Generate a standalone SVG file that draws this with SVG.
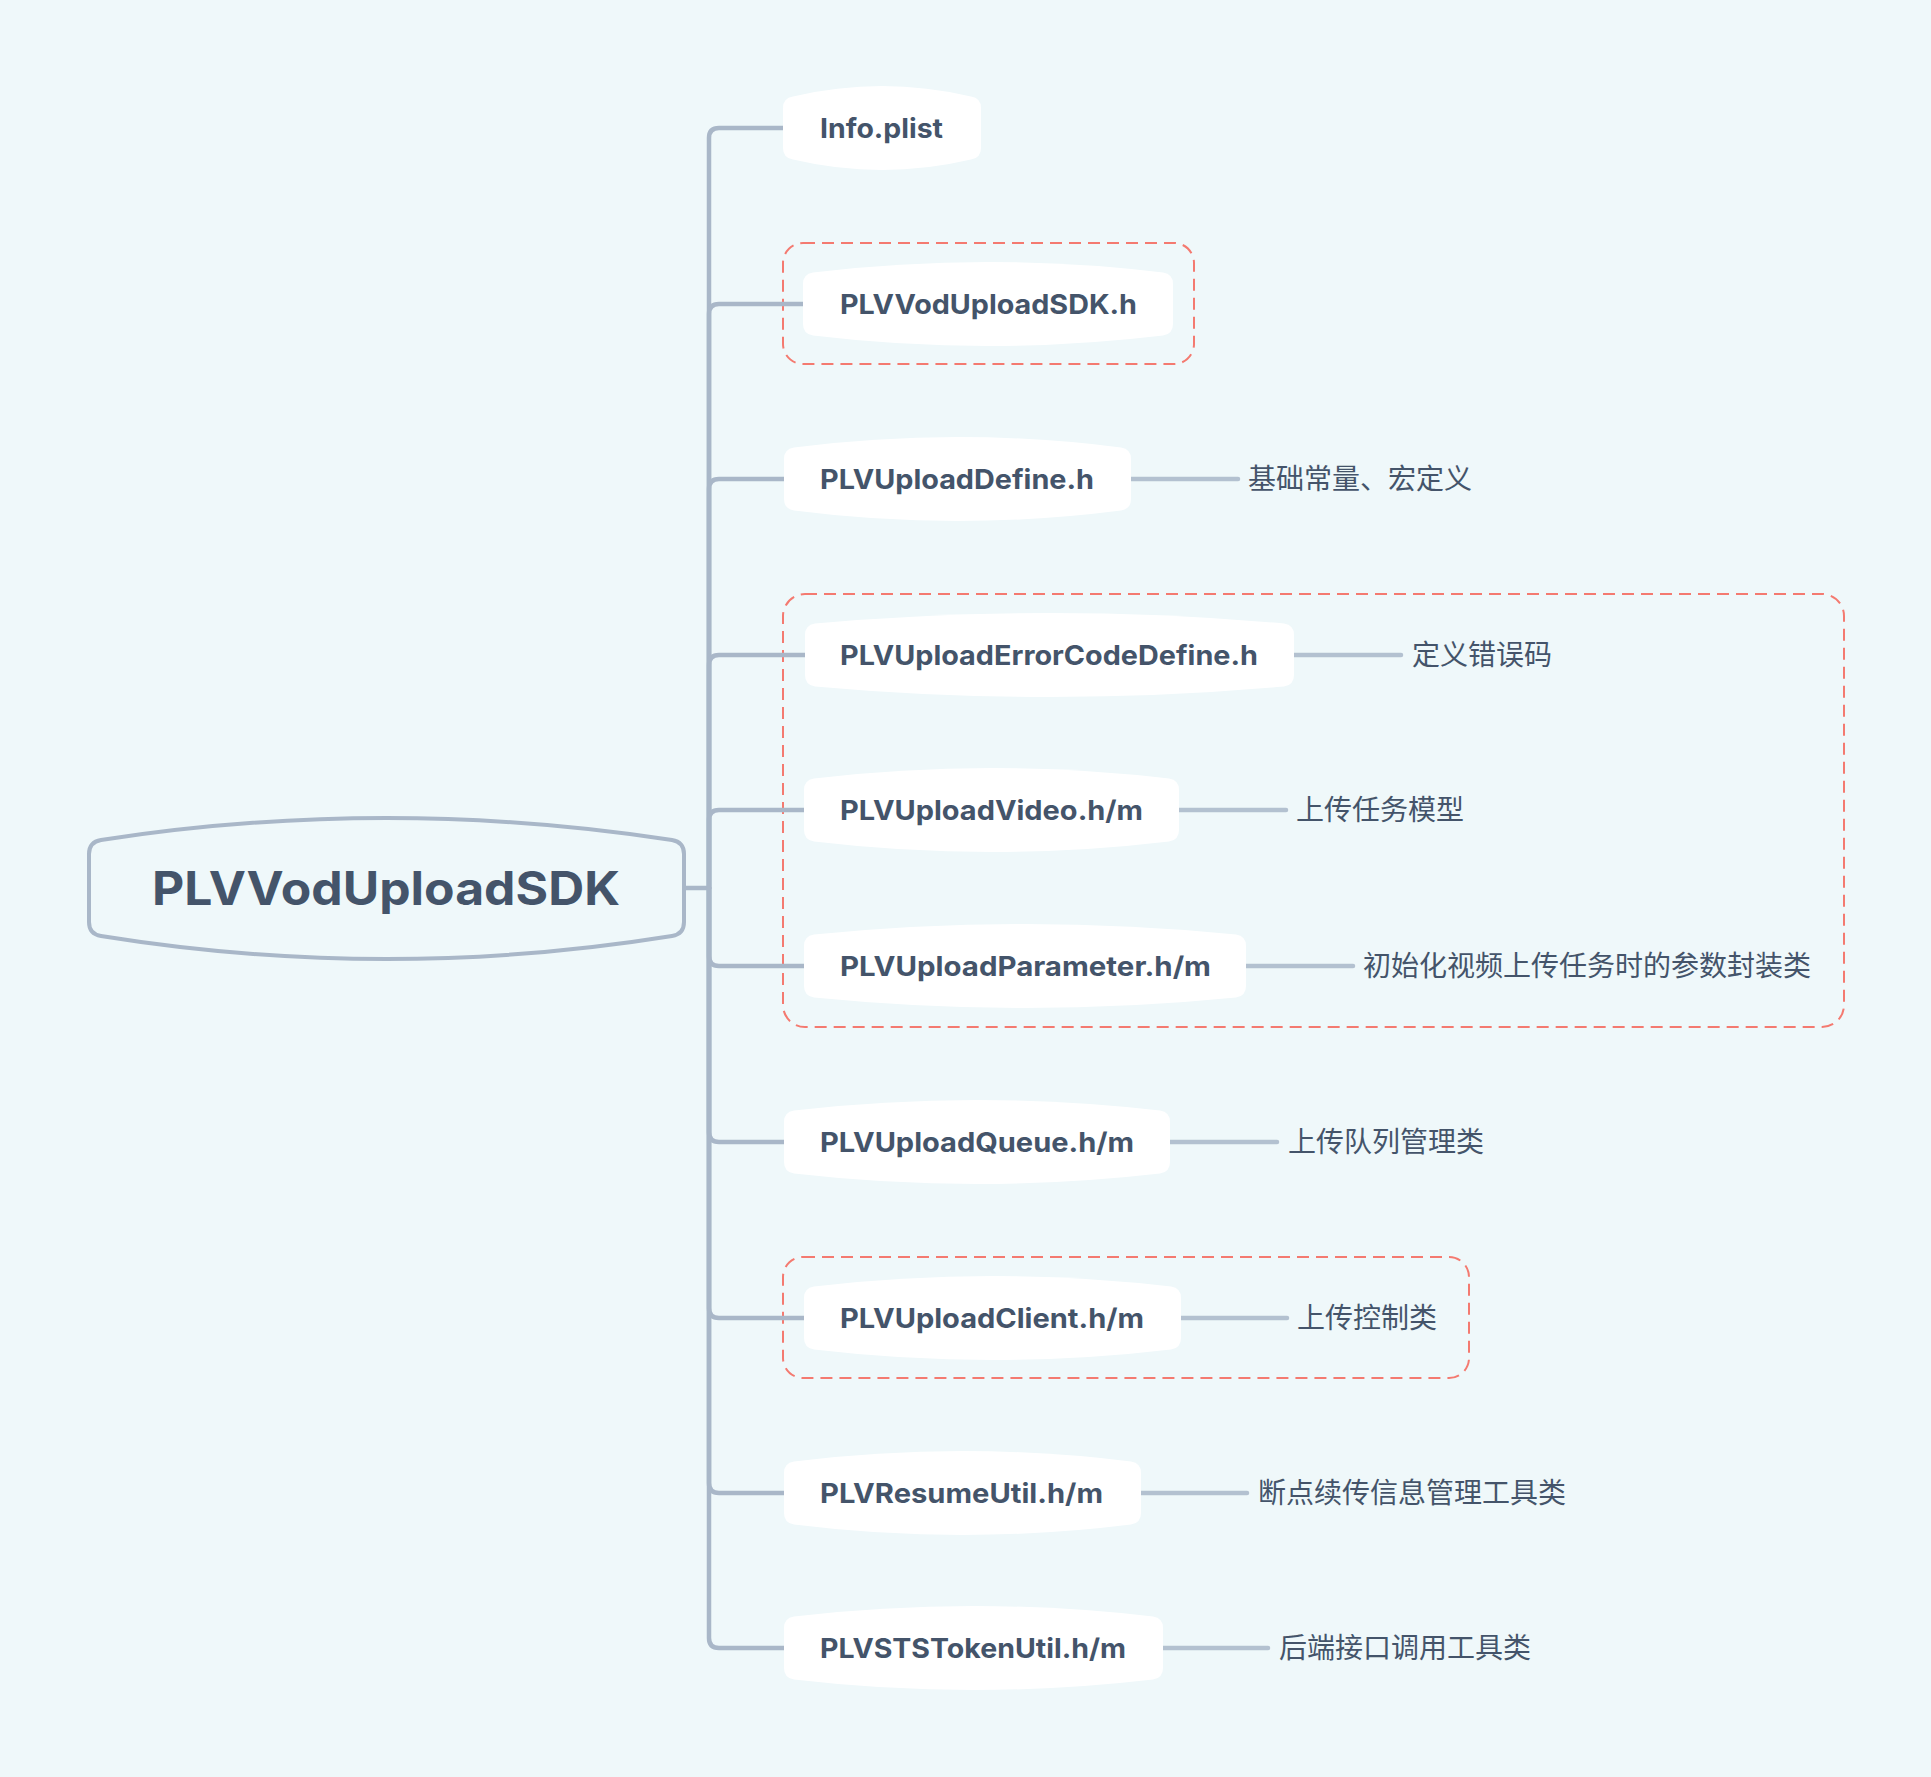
<svg xmlns="http://www.w3.org/2000/svg" width="1931" height="1777" viewBox="0 0 1931 1777">
<defs>
<style>
.bg{fill:#eff8fa}
.node{fill:#ffffff}
.root{fill:#eff8fa;stroke:#a9b7c8;stroke-width:4}
.nt{font-family:Inter,"Liberation Sans",sans-serif;font-weight:700;font-size:27px;fill:#44546a}
.rt{font-family:Inter,"Liberation Sans",sans-serif;font-weight:700;font-size:46px;fill:#44546a}
.lb{font-family:"Noto Sans CJK SC","Noto Sans",sans-serif;font-size:28px;fill:#44546a}
.br{fill:none;stroke:#a9b7c8;stroke-width:4.5;stroke-linecap:round}
.ln{fill:none;stroke:#b3c1d0;stroke-width:4.5;stroke-linecap:round}
.box{fill:none;stroke:#f47a70;stroke-width:2;stroke-dasharray:12 7}
</style>
</defs>
<rect class="bg" x="0" y="0" width="1931" height="1777"/>

<g id="boxes">
<rect class="box" x="783" y="243" width="411" height="121" rx="20"/>
<rect class="box" x="783" y="594" width="1061" height="433" rx="22"/>
<rect class="box" x="783" y="1257" width="686" height="121" rx="20"/>
</g>

<g id="connectors">
<path class="br" d="M684 888 H709"/>
<path class="br" d="M709 888 V138 Q709 128 719 128 H784"/>
<path class="br" d="M709 888 V314 Q709 304 719 304 H804"/>
<path class="br" d="M709 888 V489 Q709 479 719 479 H784"/>
<path class="br" d="M709 888 V665 Q709 655 719 655 H805"/>
<path class="br" d="M709 888 V820 Q709 810 719 810 H804"/>
<path class="br" d="M709 888 V956 Q709 966 719 966 H804"/>
<path class="br" d="M709 888 V1132 Q709 1142 719 1142 H784"/>
<path class="br" d="M709 888 V1308 Q709 1318 719 1318 H804"/>
<path class="br" d="M709 888 V1483 Q709 1493 719 1493 H784"/>
<path class="br" d="M709 888 V1638 Q709 1648 719 1648 H784"/>
<path class="ln" d="M1131 479 H1238"/>
<path class="ln" d="M1294 655 H1401"/>
<path class="ln" d="M1179 810 H1286"/>
<path class="ln" d="M1246 966 H1353"/>
<path class="ln" d="M1170 1142 H1277"/>
<path class="ln" d="M1181 1318 H1287"/>
<path class="ln" d="M1141 1493 H1247"/>
<path class="ln" d="M1163 1648 H1268"/>
</g>

<g id="root">
<path class="root" d="M89 854 Q89 842 101 840 Q386 796 672 840 Q684 842 684 854 V922 Q684 934 672 936 Q386 982 101 936 Q89 934 89 922 Z"/>
<text class="rt" x="152" y="905" textLength="468" lengthAdjust="spacingAndGlyphs">PLVVodUploadSDK</text>
</g>

<g id="n-info">
<path class="node" d="M783 108 Q783 98 793 96.5 Q882 75.5 971 96.5 Q981 98 981 108 V148 Q981 158 971 159.5 Q882 180.5 793 159.5 Q783 158 783 148 Z"/>
<text class="nt" x="820" y="138" textLength="123" lengthAdjust="spacingAndGlyphs">Info.plist</text>
</g>

<g id="n-sdkh">
<path class="node" d="M803 284 Q803 274 813 272.5 Q988 251.5 1163 272.5 Q1173 274 1173 284 V324 Q1173 334 1163 335.5 Q988 356.5 813 335.5 Q803 334 803 324 Z"/>
<text class="nt" x="840" y="314" textLength="297" lengthAdjust="spacingAndGlyphs">PLVVodUploadSDK.h</text>
</g>

<g id="n-define">
<path class="node" d="M784 459 Q784 449 794 447.5 Q957.5 426.5 1121 447.5 Q1131 449 1131 459 V499 Q1131 509 1121 510.5 Q957.5 531.5 794 510.5 Q784 509 784 499 Z"/>
<text class="nt" x="820" y="489" textLength="274" lengthAdjust="spacingAndGlyphs">PLVUploadDefine.h</text>
<text class="lb" x="1248" y="489">基础常量、宏定义</text>
</g>

<g id="n-error">
<path class="node" d="M805 635 Q805 625 815 623.5 Q1049.5 602.5 1284 623.5 Q1294 625 1294 635 V675 Q1294 685 1284 686.5 Q1049.5 707.5 815 686.5 Q805 685 805 675 Z"/>
<text class="nt" x="840" y="665" textLength="418" lengthAdjust="spacingAndGlyphs">PLVUploadErrorCodeDefine.h</text>
<text class="lb" x="1412" y="665">定义错误码</text>
</g>

<g id="n-video">
<path class="node" d="M804 790 Q804 780 814 778.5 Q991.5 757.5 1169 778.5 Q1179 780 1179 790 V830 Q1179 840 1169 841.5 Q991.5 862.5 814 841.5 Q804 840 804 830 Z"/>
<text class="nt" x="840" y="820" textLength="303" lengthAdjust="spacingAndGlyphs">PLVUploadVideo.h/m</text>
<text class="lb" x="1296" y="820">上传任务模型</text>
</g>

<g id="n-param">
<path class="node" d="M804 946 Q804 936 814 934.5 Q1025 913.5 1236 934.5 Q1246 936 1246 946 V986 Q1246 996 1236 997.5 Q1025 1018.5 814 997.5 Q804 996 804 986 Z"/>
<text class="nt" x="840" y="976" textLength="371" lengthAdjust="spacingAndGlyphs">PLVUploadParameter.h/m</text>
<text class="lb" x="1363" y="976">初始化视频上传任务时的参数封装类</text>
</g>

<g id="n-queue">
<path class="node" d="M784 1122 Q784 1112 794 1110.5 Q977 1089.5 1160 1110.5 Q1170 1112 1170 1122 V1162 Q1170 1172 1160 1173.5 Q977 1194.5 794 1173.5 Q784 1172 784 1162 Z"/>
<text class="nt" x="820" y="1152" textLength="314" lengthAdjust="spacingAndGlyphs">PLVUploadQueue.h/m</text>
<text class="lb" x="1288" y="1152">上传队列管理类</text>
</g>

<g id="n-client">
<path class="node" d="M804 1298 Q804 1288 814 1286.5 Q992.5 1265.5 1171 1286.5 Q1181 1288 1181 1298 V1338 Q1181 1348 1171 1349.5 Q992.5 1370.5 814 1349.5 Q804 1348 804 1338 Z"/>
<text class="nt" x="840" y="1328" textLength="304" lengthAdjust="spacingAndGlyphs">PLVUploadClient.h/m</text>
<text class="lb" x="1297" y="1328">上传控制类</text>
</g>

<g id="n-resume">
<path class="node" d="M784 1473 Q784 1463 794 1461.5 Q962.5 1440.5 1131 1461.5 Q1141 1463 1141 1473 V1513 Q1141 1523 1131 1524.5 Q962.5 1545.5 794 1524.5 Q784 1523 784 1513 Z"/>
<text class="nt" x="820" y="1503" textLength="283" lengthAdjust="spacingAndGlyphs">PLVResumeUtil.h/m</text>
<text class="lb" x="1258" y="1503">断点续传信息管理工具类</text>
</g>

<g id="n-sts">
<path class="node" d="M784 1628 Q784 1618 794 1616.5 Q973.5 1595.5 1153 1616.5 Q1163 1618 1163 1628 V1668 Q1163 1678 1153 1679.5 Q973.5 1700.5 794 1679.5 Q784 1678 784 1668 Z"/>
<text class="nt" x="820" y="1658" textLength="306" lengthAdjust="spacingAndGlyphs">PLVSTSTokenUtil.h/m</text>
<text class="lb" x="1279" y="1658">后端接口调用工具类</text>
</g>
</svg>
